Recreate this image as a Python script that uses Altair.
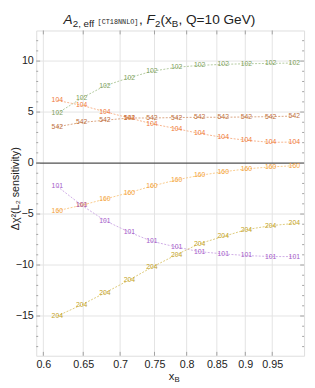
import altair as alt
import pandas as pd

# ---------------- data ----------------
x_vals = [0.617, 0.648, 0.679, 0.713, 0.746, 0.784, 0.821, 0.861, 0.902, 0.947, 0.993]
s102 = [4.87, 6.37, 7.58, 8.37, 9.00, 9.39, 9.58, 9.68, 9.74, 9.77, 9.81]
s104 = [6.14, 5.66, 5.03, 4.42, 3.85, 3.37, 2.90, 2.51, 2.23, 2.03, 2.06]
s542 = [3.56, 3.98, 4.20, 4.42, 4.42, 4.46, 4.49, 4.49, 4.52, 4.55, 4.61]
s160 = [-4.68, -4.14, -3.53, -2.90, -2.26, -1.65, -1.21, -0.86, -0.57, -0.38, -0.26]
s101 = [-2.29, -4.14, -5.64, -6.78, -7.67, -8.24, -8.69, -8.91, -9.07, -9.17, -9.17]
s204 = [-15.0, -13.9, -12.73, -11.46, -10.22, -8.98, -7.90, -7.20, -6.53, -6.14, -5.92]

series_names = ["102", "104", "542", "160", "101", "204"]
series_values = [s102, s104, s542, s160, s101, s204]

x_ticks = [0.6, 0.65, 0.7, 0.75, 0.8, 0.85, 0.9, 0.95]
y_ticks = [-15, -10, -5, 0, 5, 10]
y_minor = [v for v in range(-18, 13) if v % 5 != 0]

# ---------------- styles ----------------
label_colors = ["#7f9f5c", "#f07a38", "#c0703c", "#f4a236", "#a45ac8", "#c4a21e"]
line_colors = ["#a9c393", "#f6ab80", "#d69a74", "#f8c57e", "#c9a2e2", "#d9c46a"]
frame_color = "#a0a0a0"
grid_color = "#e3e3e3"
FONT = "Liberation Sans"

W, H = 275, 334

rows = []
for name, vals, tc, lc in zip(series_names, series_values, label_colors, line_colors):
    for i, (xv, yv) in enumerate(zip(x_vals, vals)):
        rows.append({"series": name, "x": xv, "y": yv, "i": i, "tc": tc, "lc": lc})
df = pd.DataFrame(rows)

xscale = alt.Scale(type="log", domain=[0.5915, 1.0127], nice=False, zero=False)
yscale = alt.Scale(domain=[-18.9, 13.0], nice=False, zero=False)

xaxis = alt.Axis(values=x_ticks, format=".2~f", title=None, grid=False,
                 ticks=False, domain=False, labelPadding=3,
                 labelFontSize=11, labelFont=FONT, labelColor="#222")
yaxis = alt.Axis(values=y_ticks, format="d", title="Δχ²(L₂ sensitivity)",
                 grid=False, ticks=False, domain=False, labelPadding=3,
                 labelFontSize=11, labelFont=FONT, labelColor="#222",
                 titleFont=FONT, titleFontSize=11, titleFontWeight="normal",
                 titleColor="#222", titleX=-16, titleY=H / 2 - 5)

def X(field="x"):
    return alt.X(f"{field}:Q", scale=xscale, axis=xaxis)

def Y(field="y"):
    return alt.Y(f"{field}:Q", scale=yscale, axis=yaxis)

xt = pd.DataFrame({"x": x_ticks})
yt = pd.DataFrame({"y": y_ticks})
ym = pd.DataFrame({"y": y_minor})
yg = pd.DataFrame({"y": [v for v in y_ticks if v != 0]})

grid_x = alt.Chart(xt).mark_rule(color=grid_color, strokeWidth=1).encode(x=X())
grid_y = alt.Chart(yg).mark_rule(color=grid_color, strokeWidth=1).encode(y=Y())
zero = alt.Chart(pd.DataFrame({"y": [0]})).mark_rule(color="#505050", strokeWidth=1.2).encode(y=Y())

def yticks(data, x0, x1):
    return alt.Chart(data).mark_rule(color=frame_color, strokeWidth=1).encode(
        y=Y(), x=alt.value(x0), x2=alt.value(x1))

def xticks(y0, y1):
    return alt.Chart(xt).mark_rule(color=frame_color, strokeWidth=1).encode(
        x=X(), y=alt.value(y0), y2=alt.value(y1))

tick_layers = [
    yticks(yt, 0, 4), yticks(yt, W - 4, W),
    yticks(ym, 0, 2), yticks(ym, W - 2, W),
    xticks(H - 4, H), xticks(0, 4),
]

lines = alt.Chart(df).mark_line(strokeDash=[2, 1.5], strokeWidth=0.9).encode(
    x=X(), y=Y(),
    color=alt.Color("lc:N", scale=None),
    detail="series:N",
    order="i:Q",
)
labels = alt.Chart(df).mark_text(fontSize=7, font=FONT).encode(
    x=X(), y=Y(),
    text="series:N",
    color=alt.Color("tc:N", scale=None),
)

# ---------------- title and x-axis title as rich text pieces ----------------
OX, OY = 37, 26  # plot origin on the page
def piece(t, px, py, size, font=FONT, style="normal"):
    return alt.Chart(pd.DataFrame({"t": [t]})).mark_text(
        align="left", baseline="alphabetic", fontSize=size, font=font,
        fontStyle=style, color="#222").encode(
        text="t:N", x=alt.value(px - OX), y=alt.value(py - OY))

title_pieces = [
    piece("A", 65, 19.5, 14, style="italic"),
    piece("2, eff", 74.5, 22.5, 10),
    piece("[CT18NNLO]", 100, 19.0, 7, font="Liberation Mono"),
    piece(",", 142.5, 19.5, 14),
    piece("F", 150.3, 19.5, 14, style="italic"),
    piece("2", 158.9, 22.5, 10),
    piece("(x", 164.5, 19.5, 14),
    piece("B", 176.2, 22.5, 10),
    piece(", Q=10 GeV)", 183, 19.5, 14),
    piece("x", 173, 384.5, 11.5),
    piece("B", 179, 387, 8),
]

chart = alt.layer(
    grid_x, grid_y, zero, *tick_layers, lines, labels, *title_pieces
).properties(
    width=W, height=H,
    autosize=alt.AutoSizeParams(type="none"),
    padding={"left": 29, "top": 18, "right": 3, "bottom": 28},
).configure_view(stroke=frame_color, strokeWidth=1).configure(background="white")

chart.save("out.html", embed_options={"renderer": "svg", "actions": False})
